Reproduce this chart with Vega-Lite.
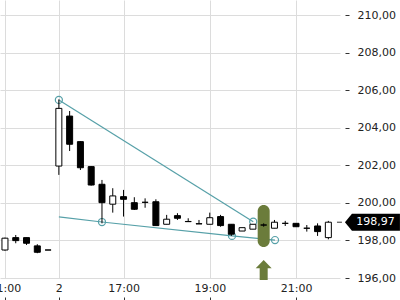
{
  "$schema": "https://vega.github.io/schema/vega-lite/v6.json",
  "width": 340,
  "height": 278,
  "autosize": {"type": "none"},
  "padding": {"left": 0, "top": 0, "right": 60, "bottom": 22},
  "config": {
    "view": {"stroke": null},
    "font": "DejaVu Sans",
    "axis": {"gridColor": "#dcdcdc", "gridWidth": 1, "labelFontSize": 11, "labelColor": "#222", "tickColor": "#333", "domain": false}
  },
  "datasets": {
    "candles": [
      {"i": 0, "o": 197.49, "h": 198.15, "l": 197.45, "c": 198.12},
      {"i": 1, "o": 198.15, "h": 198.29, "l": 197.85, "c": 197.99},
      {"i": 2, "o": 198.15, "h": 198.15, "l": 197.76, "c": 197.85},
      {"i": 3, "o": 197.71, "h": 197.80, "l": 197.32, "c": 197.37},
      {"i": 4, "o": 197.49, "h": 197.49, "l": 197.49, "c": 197.49},
      {"i": 5, "o": 201.96, "h": 205.51, "l": 201.49, "c": 205.03},
      {"i": 6, "o": 204.62, "h": 204.89, "l": 202.76, "c": 203.12},
      {"i": 7, "o": 203.26, "h": 203.29, "l": 201.75, "c": 201.87},
      {"i": 8, "o": 201.93, "h": 201.96, "l": 200.92, "c": 200.95},
      {"i": 9, "o": 200.99, "h": 201.22, "l": 198.91, "c": 200.01},
      {"i": 10, "o": 199.93, "h": 200.78, "l": 199.48, "c": 200.37},
      {"i": 11, "o": 200.33, "h": 200.69, "l": 199.27, "c": 200.19},
      {"i": 12, "o": 200.01, "h": 200.30, "l": 199.62, "c": 199.66},
      {"i": 13, "o": 200.03, "h": 200.24, "l": 199.74, "c": 200.03},
      {"i": 14, "o": 200.06, "h": 200.19, "l": 198.79, "c": 198.79},
      {"i": 15, "o": 198.86, "h": 199.36, "l": 198.86, "c": 199.13},
      {"i": 16, "o": 199.32, "h": 199.45, "l": 199.09, "c": 199.18},
      {"i": 17, "o": 199.01, "h": 199.18, "l": 199.00, "c": 199.00},
      {"i": 18, "o": 198.89, "h": 199.09, "l": 198.88, "c": 198.88},
      {"i": 19, "o": 198.86, "h": 199.48, "l": 198.86, "c": 199.21},
      {"i": 20, "o": 199.27, "h": 199.36, "l": 198.73, "c": 198.79},
      {"i": 21, "o": 198.86, "h": 198.86, "l": 198.24, "c": 198.33},
      {"i": 22, "o": 198.50, "h": 198.68, "l": 198.50, "c": 198.68},
      {"i": 23, "o": 198.60, "h": 198.86, "l": 198.60, "c": 198.86},
      {"i": 24, "o": 198.82, "h": 198.91, "l": 198.73, "c": 198.82},
      {"i": 25, "o": 198.65, "h": 199.09, "l": 198.65, "c": 198.97},
      {"i": 26, "o": 198.91, "h": 199.04, "l": 198.77, "c": 198.91},
      {"i": 27, "o": 198.91, "h": 198.91, "l": 198.73, "c": 198.73},
      {"i": 28, "o": 198.65, "h": 198.82, "l": 198.47, "c": 198.65},
      {"i": 29, "o": 198.77, "h": 198.91, "l": 198.24, "c": 198.47},
      {"i": 30, "o": 198.15, "h": 199.04, "l": 198.06, "c": 198.97}
    ],
    "trend": [
      {"line": "upper", "i": 5.0, "v": 205.48, "pivot": true},
      {"line": "upper", "i": 23.03, "v": 199.0, "pivot": true},
      {"line": "lower", "i": 5.0, "v": 199.25, "pivot": false},
      {"line": "lower", "i": 9.0, "v": 198.98, "pivot": true},
      {"line": "lower", "i": 21.06, "v": 198.24, "pivot": true},
      {"line": "lower", "i": 25.05, "v": 198.02, "pivot": true}
    ],
    "signal": [{"i": 24, "top": 199.89, "bottom": 197.65, "arrow": 196.43}],
    "last": [{"price": 198.97, "label": "198,97"}]
  },
  "layer": [
    {
      "data": {"name": "trend"},
      "mark": {"type": "line", "color": "#56a0a8", "strokeWidth": 1.2},
      "encoding": {
        "x": {"field": "i", "type": "quantitative",
          "scale": {"domain": [-0.46, 31.08], "nice": false, "zero": false, "padding": 0},
          "axis": {"title": null, "values": [0, 5, 11, 19, 27], "tickCount": 20, "grid": true, "labelFlush": false, "labelOverlap": false, "labelBound": false,
            "labelExpr": "datum.value == 0 ? '21:00' : datum.value == 5 ? '2' : datum.value == 11 ? '17:00' : datum.value == 19 ? '19:00' : '21:00'",
            "offset": 19, "tickSize": 4, "labelPadding": -18.5}},
        "y": {"field": "v", "type": "quantitative",
          "scale": {"domain": [196, 210.8], "nice": false, "zero": false, "padding": 0},
          "axis": {"title": null, "orient": "right", "values": [196, 198, 200, 202, 204, 206, 208, 210], "tickCount": 20, "grid": true, "labelOverlap": false, "labelBound": false,
            "offset": 5, "tickSize": 4, "labelPadding": 8,
            "labelExpr": "replace(format(datum.value, '.2f'), '.', ',')"}},
        "detail": {"field": "line"}
      }
    },
    {
      "data": {"name": "trend"},
      "transform": [{"filter": "datum.pivot"}],
      "mark": {"type": "point", "shape": "circle", "filled": false, "color": "#56a0a8", "size": 50, "strokeWidth": 1.2, "opacity": 1},
      "encoding": {
        "x": {"field": "i", "type": "quantitative"},
        "y": {"field": "v", "type": "quantitative"}
      }
    },
    {
      "data": {"name": "signal"},
      "mark": {"type": "bar", "color": "#6b7c3b", "size": 12, "cornerRadius": 6},
      "encoding": {
        "x": {"field": "i", "type": "quantitative"},
        "y": {"field": "top", "type": "quantitative"},
        "y2": {"field": "bottom"}
      }
    },
    {
      "data": {"name": "signal"},
      "mark": {"type": "point", "filled": true, "color": "#6b7c3b", "opacity": 1, "size": 400,
        "shape": "M 0 -1 L 0.8 -0.17 L 0.4 -0.17 L 0.4 1 L -0.4 1 L -0.4 -0.17 L -0.8 -0.17 Z"},
      "encoding": {
        "x": {"field": "i", "type": "quantitative"},
        "y": {"field": "arrow", "type": "quantitative"}
      }
    },
    {
      "data": {"name": "candles"},
      "mark": {"type": "rule", "color": "#000", "strokeWidth": 1},
      "encoding": {
        "x": {"field": "i", "type": "quantitative"},
        "y": {"field": "l", "type": "quantitative"},
        "y2": {"field": "h"}
      }
    },
    {
      "data": {"name": "candles"},
      "mark": {"type": "bar", "size": 6, "stroke": "#000", "strokeWidth": 1},
      "encoding": {
        "x": {"field": "i", "type": "quantitative"},
        "y": {"field": "o", "type": "quantitative"},
        "y2": {"field": "c"},
        "fill": {"condition": {"test": "datum.c > datum.o", "value": "#ffffff"}, "value": "#000000"}
      }
    },
    {
      "data": {"name": "last"},
      "mark": {"type": "rule", "color": "#333", "strokeWidth": 1},
      "encoding": {
        "x": {"datum": 30.8, "type": "quantitative"},
        "x2": {"datum": 31.26},
        "y": {"field": "price", "type": "quantitative"}
      }
    },
    {
      "data": {"name": "last"},
      "mark": {"type": "point", "filled": true, "color": "#000", "opacity": 1, "size": 3025,
        "shape": "M -1 0 L -0.745 -0.309 L 1 -0.309 L 1 0.309 L -0.745 0.309 Z"},
      "encoding": {
        "x": {"datum": 34.09, "type": "quantitative"},
        "y": {"field": "price", "type": "quantitative"}
      }
    },
    {
      "data": {"name": "last"},
      "mark": {"type": "text", "color": "#fff", "fontSize": 11, "align": "center", "baseline": "middle"},
      "encoding": {
        "x": {"datum": 34.37, "type": "quantitative"},
        "y": {"field": "price", "type": "quantitative"},
        "text": {"field": "label"}
      }
    }
  ]
}
